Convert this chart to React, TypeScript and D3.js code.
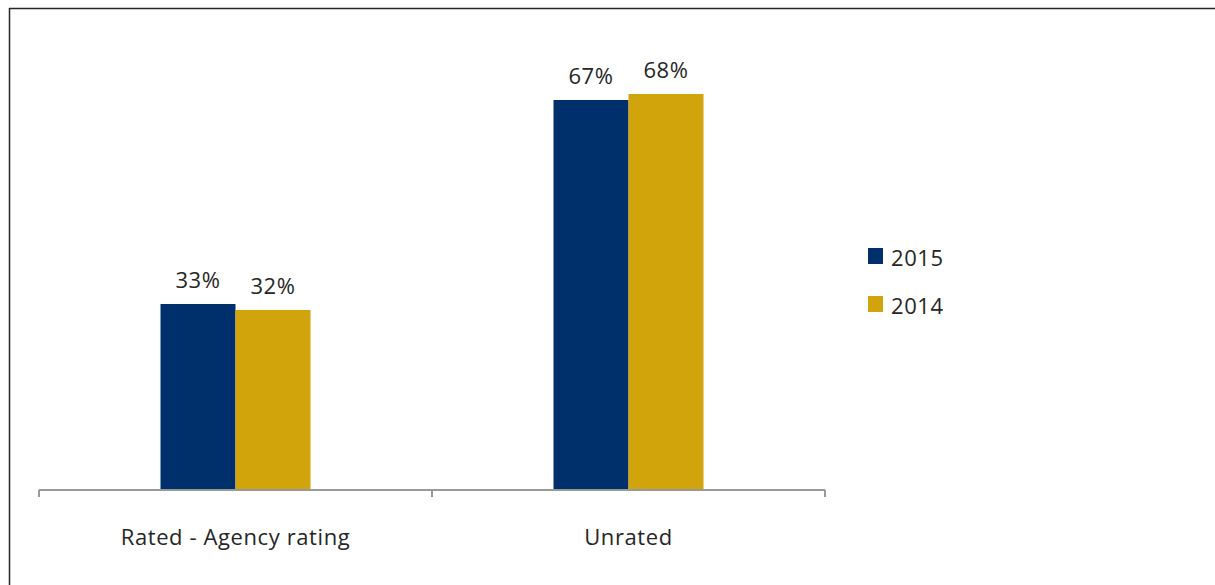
import React from "react";
import * as d3 from "d3";

const categories = ["Rated - Agency rating", "Unrated"];
const seriesNames = ["2015", "2014"];
const values2015 = [33, 67];
const values2014 = [32, 68];
const seriesColors = ["#00306B", "#D2A40B"];

const W = 1215;
const H = 585;
const FONT = "'Open Sans', sans-serif";
const FS = 22;
const LS = 0.6;

export default function App() {
  if (typeof document !== "undefined") document.body.style.margin = "0";
  const axisLeft = 39;
  const axisRight = 825;
  const x = d3.scaleBand<string>().domain(categories).range([axisLeft, axisRight]);
  const y = d3.scaleLinear().domain([2, 80]).range([490, 22]);
  const inner = d3.scaleBand<string>().domain(seriesNames).range([0, 150]);
  const series = [values2015, values2014];
  const bw = x.bandwidth();

  return (
    <svg width={W} height={H} style={{ position: "absolute", left: 0, top: 0, background: "#fff" }}>
      <rect x={0} y={0} width={W} height={H} fill="#fff" />
      {/* frame */}
      <line x1={9} y1={8.5} x2={W} y2={8.5} stroke="#262626" strokeWidth={1.5} />
      <line x1={9.5} y1={8} x2={9.5} y2={H} stroke="#262626" strokeWidth={1.5} />
      {/* bars */}
      {categories.map((c, ci) => {
        const gx = (x(c) as number) + bw / 2 - 75;
        return seriesNames.map((s, si) => {
          const v = series[si][ci];
          const bx = gx + (inner(s) as number);
          return (
            <g key={c + s}>
              <rect
                x={bx}
                y={y(v)}
                width={inner.bandwidth()}
                height={y(2) - y(v)}
                fill={seriesColors[si]}
              />
              <text
                x={bx + inner.bandwidth() / 2}
                y={y(v) - 16}
                textAnchor="middle"
                fontFamily={FONT}
                fontSize={FS}
                letterSpacing={LS}
                fill="#262626"
              >
                {v}%
              </text>
            </g>
          );
        });
      })}
      {/* axis */}
      <line x1={axisLeft} y1={y(2)} x2={axisRight} y2={y(2)} stroke="#999" strokeWidth={2} />
      {[...categories.map((c) => x(c) as number), axisRight].map((tx, i) => (
        <line key={i} x1={tx} y1={y(2)} x2={tx} y2={y(2) + 7} stroke="#999" strokeWidth={2} />
      ))}
      {categories.map((c) => (
        <text
          key={c}
          x={(x(c) as number) + bw / 2}
          y={545}
          textAnchor="middle"
          fontFamily={FONT}
          fontSize={FS}
          letterSpacing={LS}
          fill="#262626"
        >
          {c}
        </text>
      ))}
      {/* legend */}
      {seriesNames.map((s, i) => (
        <g key={s} transform={`translate(868, ${248 + i * 48})`}>
          <rect x={0} y={0} width={15} height={16} fill={seriesColors[i]} />
          <text x={23} y={18} fontFamily={FONT} fontSize={FS} letterSpacing={LS} fill="#262626">
            {s}
          </text>
        </g>
      ))}
    </svg>
  );
}
